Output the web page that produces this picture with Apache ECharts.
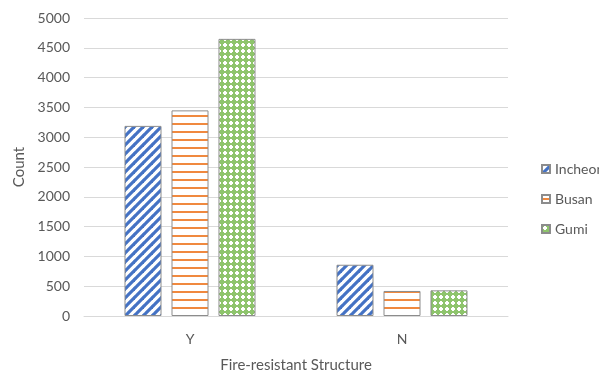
<!DOCTYPE html>
<html>
<head>
<meta charset="utf-8">
<script src="https://cdn.jsdelivr.net/npm/echarts@6/dist/echarts.min.js"></script>
<style>
html,body{margin:0;padding:0;background:#fff;}
#chart{width:599px;height:373px;}
</style>
</head>
<body>
<div id="chart"></div>
<script>
const categories = ['Y', 'N'];
const seriesNames = ['Incheon', 'Busan', 'Gumi'];
const incheon = [3190, 860];
const busan = [3450, 420];
const gumi = [4650, 430];
const yTicks = [0, 500, 1000, 1500, 2000, 2500, 3000, 3500, 4000, 4500, 5000];

function makeTile(w, h, draw) {
  const c = document.createElement('canvas');
  c.width = w; c.height = h;
  const ctx = c.getContext('2d');
  ctx.fillStyle = '#ffffff';
  ctx.fillRect(0, 0, w, h);
  draw(ctx, w, h);
  return c;
}
const diag = makeTile(9, 9, (ctx, w, h) => {
  ctx.strokeStyle = '#4472C4';
  ctx.lineWidth = 3.2;
  for (let k = -1; k <= 1; k++) {
    ctx.beginPath();
    ctx.moveTo(k * w - 1, h + 1);
    ctx.lineTo(k * w + w + 1, -1);
    ctx.stroke();
  }
});
const horiz = makeTile(8, 8, (ctx, w, h) => {
  ctx.fillStyle = '#F0893F';
  ctx.fillRect(0, 3, w, 2);
});
const lattice = makeTile(6, 6, (ctx, w, h) => {
  ctx.fillStyle = '#8EC46C';
  ctx.fillRect(0, 0, w, h);
  ctx.fillStyle = '#ffffff';
  ctx.fillRect(1, 2, 4, 2);
  ctx.fillRect(2, 1, 2, 4);
});
const fills = [diag, horiz, lattice];
const values = [incheon, busan, gumi];

const chart = echarts.init(document.getElementById('chart'), null, {renderer: 'canvas'});
const font = 'Lato, "Open Sans", sans-serif';
chart.setOption({
  animation: false,
  grid: {left: 84, right: 91, top: 18, bottom: 57, outerBoundsMode: 'none', containLabel: false},
  legend: {
    orient: 'vertical', left: 536, top: 157, itemGap: 16,
    itemWidth: 8, itemHeight: 8, icon: 'rect',
    textStyle: {color: '#595959', fontSize: 14, fontFamily: font},
    data: seriesNames
  },
  xAxis: {
    type: 'category', data: categories,
    axisLine: {lineStyle: {color: '#d9d9d9'}},
    axisTick: {show: false},
    axisLabel: {color: '#595959', fontSize: 14, fontFamily: font, margin: 16},
    name: 'Fire-resistant Structure', nameLocation: 'middle', nameGap: 42,
    nameTextStyle: {color: '#595959', fontSize: 15, fontFamily: font}
  },
  yAxis: {
    type: 'value', min: 0, max: 5000, interval: 500,
    axisLine: {show: false}, axisTick: {show: false},
    splitLine: {lineStyle: {color: '#d9d9d9'}},
    axisLabel: {color: '#595959', fontSize: 14, fontFamily: font, margin: 14,
      formatter: v => yTicks.includes(v) ? String(v) : ''},
    name: 'Count', nameLocation: 'middle', nameGap: 51,
    nameTextStyle: {color: '#595959', fontSize: 15, fontFamily: font}
  },
  series: seriesNames.map((n, i) => ({
    name: n, type: 'bar', data: values[i],
    barWidth: 37, barGap: '27%',
    itemStyle: {color: {image: fills[i], repeat: 'repeat'}, borderColor: '#8c8c8c', borderWidth: 1}
  }))
});
</script>
</body>
</html>
